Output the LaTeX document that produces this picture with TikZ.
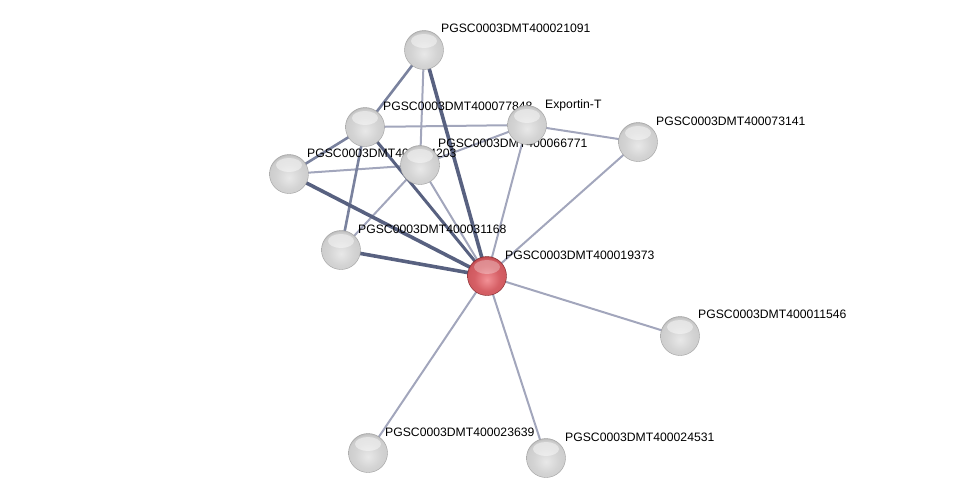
\documentclass[tikz,border=0pt]{standalone}
\usepackage{fontspec}
\setmainfont{Liberation Sans}
\definecolor{edgedark}{RGB}{88,97,128}
\definecolor{edgemid}{RGB}{122,130,158}
\definecolor{edgelight}{RGB}{162,166,188}
\definecolor{greylight}{RGB}{232,232,232}
\definecolor{greymid}{RGB}{212,212,212}
\definecolor{greyrim}{RGB}{165,165,165}
\definecolor{redlight}{RGB}{242,145,150}
\definecolor{redmid}{RGB}{214,96,102}
\definecolor{redrim}{RGB}{160,45,50}
\pgfdeclareradialshading{protshade}{\pgfqpoint{0bp}{-5bp}}{color(0bp)=(greylight); color(16bp)=(greymid); color(25bp)=(greymid!85!greyrim); color(30bp)=(greyrim); color(50bp)=(greyrim)}
\pgfdeclareradialshading{queryshade}{\pgfqpoint{0bp}{-5bp}}{color(0bp)=(redlight); color(16bp)=(redmid); color(25bp)=(redmid!85!redrim); color(30bp)=(redrim); color(50bp)=(redrim)}

\begin{document}
\begin{tikzpicture}[x=1pt,y=-1pt,
        prot/.style={circle, minimum size=39pt, inner sep=0pt, draw=gray!75, thin, shading=protshade},
        query/.style={prot, draw=redrim!80!black, shading=queryshade},
        gloss/.style={white, opacity=.45},
        lbl/.style={anchor=base west, inner sep=0pt, font=\fontsize{12.2}{13}\selectfont},
        strong/.style={edgedark, line width=3.6pt},
        medium/.style={edgemid, line width=2.6pt},
        weak/.style={edgelight, line width=2pt}]

                            \useasboundingbox (0,0) rectangle (976,503);

                            % positions
                            \coordinate (n21091) at (424,50);
                            \coordinate (n77848) at (365,127);
                            \coordinate (nexp) at (527,125);
                            \coordinate (n73141) at (638,142);
                            \coordinate (n203) at (289,174);
                            \coordinate (n66771) at (420,165);
                            \coordinate (n31168) at (341,250);
                            \coordinate (n19373) at (487,276);
                            \coordinate (n11546) at (680,336);
                            \coordinate (n23639) at (368,453);
                            \coordinate (n24531) at (546,458);

                            % edges
                            \draw[weak] (n21091) -- (n66771);
                            \draw[weak] (n77848) -- (nexp);
                            \draw[weak] (nexp) -- (n73141);
                            \draw[weak] (nexp) -- (n19373);
                            \draw[weak] (n73141) -- (n19373);
                            \draw[weak] (n203) -- (n66771);
                            \draw[weak] (n66771) -- (nexp);
                            \draw[weak] (n66771) -- (n31168);
                            \draw[weak] (n66771) -- (n19373);
                            \draw[weak] (n19373) -- (n11546);
                            \draw[weak] (n19373) -- (n23639);
                            \draw[weak] (n19373) -- (n24531);
                            \draw[medium] (n21091) -- (n77848);
                            \draw[medium] (n77848) -- (n203);
                            \draw[medium] (n77848) -- (n31168);
                            \draw[strong, line width=3pt] (n77848) -- (n19373);
                            \draw[strong] (n21091) -- (n19373);
                            \draw[strong] (n203) -- (n19373);
                            \draw[strong] (n31168) -- (n19373);

                            % labels
                            \node[lbl] at ([shift={(17pt,17pt)}]n21091) {PGSC0003DMT400021091};
                            \node[lbl] at ([shift={(18pt,17pt)}]n77848) {PGSC0003DMT400077848};
                            \node[lbl] at ([shift={(18pt,17pt)}]nexp) {Exportin-T};
                            \node[lbl] at ([shift={(18pt,17pt)}]n73141) {PGSC0003DMT400073141};
                            \node[lbl] at ([shift={(18pt,17pt)}]n203) {PGSC0003DMT400034203};
                            \node[lbl] at ([shift={(18pt,18pt)}]n66771) {PGSC0003DMT400066771};
                            \node[lbl] at ([shift={(17pt,17pt)}]n31168) {PGSC0003DMT400031168};
                            \node[lbl] at ([shift={(18pt,17pt)}]n19373) {PGSC0003DMT400019373};
                            \node[lbl] at ([shift={(18pt,18pt)}]n11546) {PGSC0003DMT400011546};
                            \node[lbl] at ([shift={(17pt,17pt)}]n23639) {PGSC0003DMT400023639};
                            \node[lbl] at ([shift={(19pt,17pt)}]n24531) {PGSC0003DMT400024531};

                            % proteins
                            \foreach \p in {n21091, n77848, n203, n66771, nexp, n73141, n31168, n11546, n23639, n24531} {
                                \node[prot] (p\p) at (\p) {};
                                \fill[gloss] ([yshift=9pt]\p) ellipse (13pt and 7pt);
                            }
                            \node[query] (p19373) at (n19373) {};
                            \fill[gloss, opacity=.3] ([yshift=9pt]n19373) ellipse (13pt and 7pt);

                        \end{tikzpicture}
\end{document}
